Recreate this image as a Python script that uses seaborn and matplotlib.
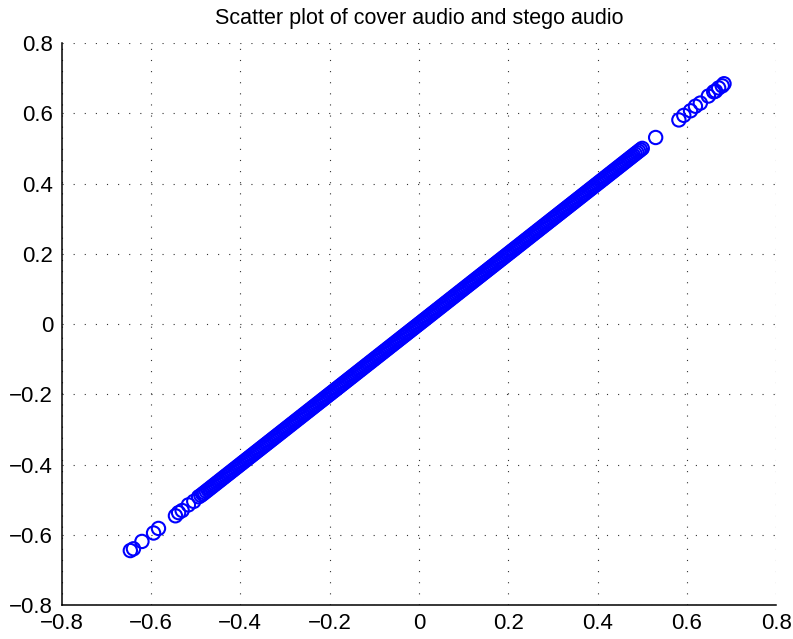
import matplotlib
matplotlib.use("Agg")
import matplotlib.pyplot as plt
import seaborn as sns
import pandas as pd

# sparse samples at the two ends of the diagonal (cover, stego)
cover_low = [-0.646, -0.639, -0.620, -0.594, -0.583, -0.545, -0.538, -0.530, -0.516, -0.504, -0.493]
stego_low = [-0.645, -0.640, -0.619, -0.595, -0.582, -0.546, -0.537, -0.531, -0.515, -0.505, -0.492]
cover_high = [0.530, 0.582, 0.593, 0.608, 0.619, 0.630, 0.648, 0.660, 0.664, 0.671, 0.679, 0.683]
stego_high = [0.531, 0.581, 0.594, 0.607, 0.620, 0.629, 0.649, 0.661, 0.663, 0.672, 0.678, 0.684]

# dense band: read values sit on the diagonal, stego == cover at this resolution
band = [
    -0.488, -0.484, -0.480, -0.476, -0.472, -0.468, -0.464, -0.460, -0.456, -0.452,
    -0.448, -0.444, -0.440, -0.436, -0.432, -0.428, -0.424, -0.420, -0.416, -0.412,
    -0.408, -0.404, -0.400, -0.396, -0.392, -0.388, -0.384, -0.380, -0.376, -0.372,
    -0.368, -0.364, -0.360, -0.356, -0.352, -0.348, -0.344, -0.340, -0.336, -0.332,
    -0.328, -0.324, -0.320, -0.316, -0.312, -0.308, -0.304, -0.300, -0.296, -0.292,
    -0.288, -0.284, -0.280, -0.276, -0.272, -0.268, -0.264, -0.260, -0.256, -0.252,
    -0.248, -0.244, -0.240, -0.236, -0.232, -0.228, -0.224, -0.220, -0.216, -0.212,
    -0.208, -0.204, -0.200, -0.196, -0.192, -0.188, -0.184, -0.180, -0.176, -0.172,
    -0.168, -0.164, -0.160, -0.156, -0.152, -0.148, -0.144, -0.140, -0.136, -0.132,
    -0.128, -0.124, -0.120, -0.116, -0.112, -0.108, -0.104, -0.100, -0.096, -0.092,
    -0.088, -0.084, -0.080, -0.076, -0.072, -0.068, -0.064, -0.060, -0.056, -0.052,
    -0.048, -0.044, -0.040, -0.036, -0.032, -0.028, -0.024, -0.020, -0.016, -0.012,
    -0.008, -0.004, 0.000, 0.004, 0.008, 0.012, 0.016, 0.020, 0.024, 0.028,
    0.032, 0.036, 0.040, 0.044, 0.048, 0.052, 0.056, 0.060, 0.064, 0.068,
    0.072, 0.076, 0.080, 0.084, 0.088, 0.092, 0.096, 0.100, 0.104, 0.108,
    0.112, 0.116, 0.120, 0.124, 0.128, 0.132, 0.136, 0.140, 0.144, 0.148,
    0.152, 0.156, 0.160, 0.164, 0.168, 0.172, 0.176, 0.180, 0.184, 0.188,
    0.192, 0.196, 0.200, 0.204, 0.208, 0.212, 0.216, 0.220, 0.224, 0.228,
    0.232, 0.236, 0.240, 0.244, 0.248, 0.252, 0.256, 0.260, 0.264, 0.268,
    0.272, 0.276, 0.280, 0.284, 0.288, 0.292, 0.296, 0.300, 0.304, 0.308,
    0.312, 0.316, 0.320, 0.324, 0.328, 0.332, 0.336, 0.340, 0.344, 0.348,
    0.352, 0.356, 0.360, 0.364, 0.368, 0.372, 0.376, 0.380, 0.384, 0.388,
    0.392, 0.396, 0.400, 0.404, 0.408, 0.412, 0.416, 0.420, 0.424, 0.428,
    0.432, 0.436, 0.440, 0.444, 0.448, 0.452, 0.456, 0.460, 0.464, 0.468,
    0.472, 0.476, 0.480, 0.484, 0.488, 0.492, 0.496, 0.500,
]

ticks = [-0.8, -0.6, -0.4, -0.2, 0, 0.2, 0.4, 0.6, 0.8]
tick_labels = ["\u22120.8", "\u22120.6", "\u22120.4", "\u22120.2", "0", "0.2", "0.4", "0.6", "0.8"]

df = pd.DataFrame({
    "cover": cover_low + band + cover_high,
    "stego": stego_low + band + stego_high,
})

sns.set_style("white")
plt.rcParams["font.family"] = ["Liberation Sans", "DejaVu Sans"]

fig = plt.figure(figsize=(7.93, 6.39), dpi=100)
ax = fig.add_axes([0.0776, 0.0532, 0.9013, 0.8795])

sns.scatterplot(data=df, x="cover", y="stego", ax=ax, marker="o", s=92,
                facecolors="none", edgecolor="blue", linewidth=1.5)

ax.set_xlim(-0.8, 0.8)
ax.set_ylim(-0.8, 0.8)
ax.set_xticks(ticks)
ax.set_yticks(ticks)
ax.set_xticklabels(tick_labels, fontsize=16, color="black")
ax.set_yticklabels(tick_labels, fontsize=16, color="black")
ax.set_xlabel("")
ax.set_ylabel("")
ax.tick_params(axis="x", direction="in", length=5, width=1, color="black", pad=6)
ax.tick_params(axis="y", direction="in", length=5, width=1, color="black", pad=6)
ax.grid(True, color="#333333", linestyle=(0, (1, 9)), linewidth=0.8)
ax.set_axisbelow(True)

for side in ["top", "right"]:
    ax.spines[side].set_visible(False)
for side in ["left", "bottom"]:
    ax.spines[side].set_color("black")
    ax.spines[side].set_linewidth(1.1)

ax.set_title("Scatter plot of cover audio and stego audio", fontsize=15.5,
             color="black", pad=14)

fig.savefig("out.png", dpi=100)
